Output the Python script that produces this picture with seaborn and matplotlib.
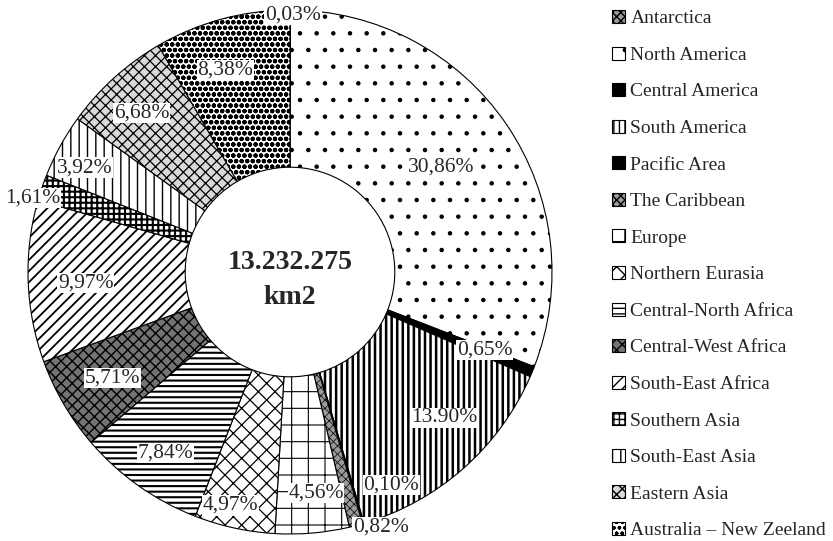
import numpy as np
import seaborn as sns
import matplotlib.pyplot as plt
from matplotlib.patches import Patch

# data
regions = ["Antarctica", "North America", "Central America", "South America",
           "Pacific Area", "The Caribbean", "Europe", "Northern Eurasia",
           "Central-North Africa", "Central-West Africa", "South-East Africa",
           "Southern Asia", "South-East Asia", "Eastern Asia",
           "Australia – New Zeeland"]
shares = [0.03, 30.86, 0.65, 13.90, 0.10, 0.82, 4.56, 4.97,
          7.84, 5.71, 9.97, 1.61, 3.92, 6.68, 8.38]
share_labels = ["0,03%", "30,86%", "0,65%", "13.90%", "0,10%", "0,82%", "4,56%",
                "4,97%", "7,84%", "5,71%", "9,97%", "1,61%", "3,92%", "6,68%",
                "8,38%"]
total_text = "13.232.275\nkm2"

# styles
faces = ["0.6", "white", "black", "white", "black", "0.6", "white", "white",
         "white", "0.45", "white", "white", "white", "0.85", "white"]
hatches = ["xxxx", ".", None, "|||", None, "xxxx", "+", "xx",
           "---", "xxx", "///", "+++", "||", "xxx", "ooo"]
hatch_lw = [0.5, 0.8, 1.0, 1.8, 1.0, 0.5, 0.8, 0.9,
            1.5, 1.0, 1.3, 1.5, 1.0, 0.9, 1.5]
# label placement: radius (outer = 1) and angular nudge in degrees
label_r = [0.98, 0.70, 0.80, 0.81, 0.90, 1.035, 0.85, 0.92,
           0.84, 0.79, 0.78, 1.02, 0.88, 0.83, 0.81]
label_shift = [0.6, -0.4, -0.6, -5.1, -9.2, -5.0, -1.8, 2.1,
               -0.8, -0.5, -1.0, -2.7, -1.8, -0.9, -2.7]


def main():
    sns.set_theme(style="white")
    plt.rcParams["font.family"] = ["Liberation Serif", "DejaVu Serif"]
    plt.rcParams["hatch.linewidth"] = 1.0

    fig = plt.figure(figsize=(8.33, 5.41), dpi=100)
    ax = fig.add_axes([28 / 833, 7 / 541, 524 / 833, 524 / 541])

    wedges, _ = ax.pie(shares, startangle=90, counterclock=False, radius=1.0,
                       colors=faces,
                       wedgeprops=dict(width=0.6, edgecolor="black", linewidth=0.8))
    for w, h, lw in zip(wedges, hatches, hatch_lw):
        if h:
            w.set_hatch(h)
            if hasattr(w, "set_hatch_linewidth"):
                w.set_hatch_linewidth(lw)

    ax.set_xlim(-1, 1)
    ax.set_ylim(-1, 1)
    ax.set_aspect("equal")
    ax.axis("off")

    # percentage labels at the wedge middles
    cum = np.cumsum(shares) - np.array(shares) / 2
    for mid, txt, r, sh in zip(cum, share_labels, label_r, label_shift):
        ang = np.deg2rad(mid / sum(shares) * 360 + sh)
        ax.text(r * np.sin(ang), r * np.cos(ang), txt, ha="center", va="center",
                fontsize=15.5, clip_on=False,
                bbox=dict(facecolor="white", edgecolor="none", pad=0.5))

    ax.text(0, -0.03, total_text, ha="center", va="center", fontsize=20,
            fontweight="bold", linespacing=1.5)

    handles = []
    for f, h, lw in zip(faces, hatches, hatch_lw):
        p = Patch(facecolor=f, edgecolor="black", hatch=h, linewidth=0.8)
        if h and hasattr(p, "set_hatch_linewidth"):
            p.set_hatch_linewidth(lw)
        handles.append(p)
    fig.legend(handles, regions, loc="upper left",
               bbox_to_anchor=(612 / 833, 1 - 10 / 541), frameon=False,
               fontsize=14, borderpad=0, borderaxespad=0, handletextpad=0.3,
               handlelength=0.65, handleheight=0.65, labelspacing=0.99)

    fig.savefig("out.png", dpi=100)


if __name__ == '__main__':
    main()
